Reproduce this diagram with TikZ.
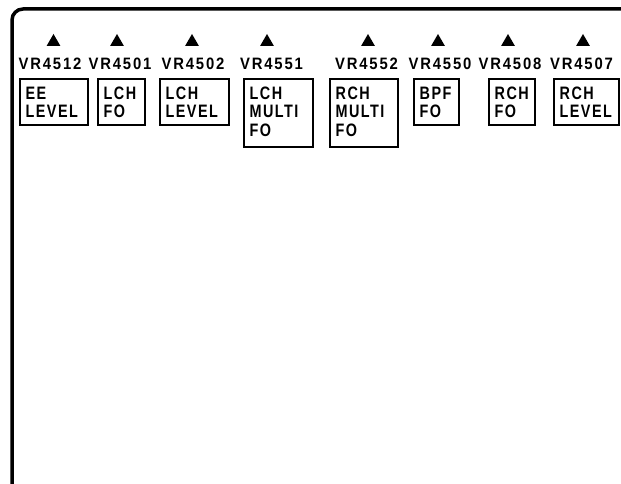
\documentclass[tikz,border=0pt]{standalone}
\usepackage{fontspec}
\newfontfamily\panelfont[LetterSpace=11, FakeStretch=0.9]{Liberation Sans}
\newfontfamily\capfont[LetterSpace=8, FakeStretch=0.8]{Liberation Sans}
\usetikzlibrary{shapes.geometric}

\begin{document}
\begin{tikzpicture}[x=1pt, y=-1pt,
  pointer/.style={regular polygon, regular polygon sides=3, fill=black, inner sep=0pt, minimum size=16pt},
  tag/.style={font=\panelfont\bfseries\fontsize{16.5}{18}\selectfont, inner sep=0pt},
  panel/.style={draw=black, line width=1.8pt, anchor=north west, inner sep=0pt},
  caption/.style={font=\capfont\bfseries\fontsize{18}{18.3}\selectfont, align=left, anchor=north west, inner sep=0pt}]
  \useasboundingbox (0,0) rectangle (621,484);
  \draw[line width=3.5pt, rounded corners=11pt] (12,500) -- (12,9) -- (640,9);
  \foreach \px/\lx/\vr/\bl/\br/\bb/\txt in {53.5/50/4512/19/87/124/{EE\\LEVEL},
      117/120/4501/97/144/124/{LCH\\FO}, 192/193/4502/159/228/124/{LCH\\LEVEL},
      267/271.5/4551/243/312/146/{LCH\\MULTI\\FO}, 368/366.5/4552/329/397/146/{RCH\\MULTI\\FO},
      438/440/4550/413/458/124/{BPF\\FO}, 508/510/4508/488/534/124/{RCH\\FO},
      583/581.5/4507/553/618/124/{RCH\\LEVEL}}{
    \node[pointer] (p\vr) at (\px,42) {};
    \node[tag] (t\vr) at (\lx,64) {VR\vr};
    \node[panel, minimum width=\br pt-\bl pt, minimum height=\bb pt-78pt] (b\vr) at (\bl,78) {};
    \node[caption] (c\vr) at ([shift={(6.5pt,-8.7pt)}]b\vr.north west) {\txt};
  }
\end{tikzpicture}
\end{document}
